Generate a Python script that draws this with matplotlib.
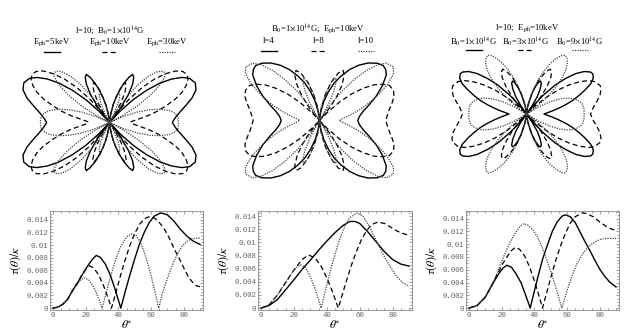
import numpy as np
import matplotlib.pyplot as plt
from matplotlib.lines import Line2D
from matplotlib.ticker import MultipleLocator

plt.rcParams['font.family'] = ['Liberation Serif', 'DejaVu Serif']
plt.rcParams['mathtext.fontset'] = 'stix'

W, H = 636, 330

# theta in degrees, tau(theta)/kappa in units of 1e-3

# panel 1: l=10, B0=1e14 G, E_ph = 5, 10, 30 keV
p1_th_a = [0, 3, 6, 9, 12, 15, 18, 21, 24, 26.5, 29, 32, 35, 38, 40, 41.5, 44, 47, 50, 53, 56, 59, 62, 66, 70, 74, 78, 82, 86, 90]
p1_tau_a = [0, 0.15, 0.6, 1.4, 2.8, 4.0, 5.3, 6.6, 7.7, 8.35, 8.05, 7.0, 5.3, 3.0, 1.3, 0, 2.4, 5.2, 7.8, 10.2, 12.1, 13.6, 14.6, 15.1, 14.8, 13.8, 12.5, 11.4, 10.6, 10.1]
p1_th_b = [0, 3, 6, 9, 12, 15, 18, 20, 22.5, 25, 28, 31, 34, 35.8, 38, 41, 44, 47, 50, 53, 56, 59, 62, 65, 68, 71, 74, 77, 80, 83, 86, 88, 90]
p1_tau_b = [0, 0.15, 0.6, 1.4, 2.8, 4.0, 5.4, 6.1, 6.7, 6.35, 5.25, 3.55, 1.4, 0, 2.0, 4.85, 7.5, 9.9, 11.8, 13.3, 14.2, 14.5, 14.3, 13.6, 12.6, 11.2, 9.5, 8.0, 6.4, 4.9, 3.9, 3.5, 3.4]
p1_th_c = [0, 3, 6, 9, 12, 15, 17, 19.5, 22, 25, 28, 30.1, 32, 35, 38, 41, 44, 46, 48.5, 51, 54, 57, 60, 62.5, 64.7, 67, 70, 73, 76, 79, 82, 85, 88, 90]
p1_tau_c = [0, 0.15, 0.6, 1.4, 2.7, 3.8, 4.5, 4.8, 4.45, 3.3, 1.5, 0, 1.9, 4.8, 7.4, 9.5, 10.9, 11.5, 11.8, 11.5, 10.2, 8.0, 5.2, 2.5, 0, 2.4, 4.7, 6.8, 8.5, 9.8, 10.6, 11.0, 11.1, 11.1]

# panel 2: B0=1e14 G, E_ph=10 keV, l = 4, 8, 10
p2_th_a = [0, 5, 10, 15, 20, 25, 30, 35, 40, 45, 50, 54, 57, 60, 65, 70, 75, 80, 85, 90]
p2_tau_a = [0, 0.4, 1.3, 2.8, 4.3, 5.9, 7.3, 8.8, 10.2, 11.5, 12.6, 13.2, 13.2, 12.9, 11.6, 10.1, 8.6, 7.4, 6.7, 6.4]
p2_th_b = [0, 5, 10, 15, 20, 25, 29, 33, 37, 40, 43, 45, 47, 49, 52, 55, 58, 61, 64, 67, 71, 75, 79, 83, 87, 90]
p2_tau_b = [0, 0.5, 2.0, 3.9, 5.8, 7.4, 8.1, 7.6, 6.2, 4.6, 2.8, 1.4, 0, 1.7, 4.2, 6.55, 8.6, 10.4, 11.7, 12.7, 13.1, 12.9, 12.3, 11.7, 11.3, 11.1]
p2_th_c = [0, 5, 10, 15, 19, 22, 24, 27, 30, 33, 35, 36.6, 39, 42, 45, 48, 51, 54, 58.5, 62, 66, 70, 74, 78, 82, 86, 90]
p2_tau_c = [0, 0.5, 2.0, 3.9, 5.4, 6.3, 6.6, 6.2, 4.8, 2.9, 1.3, 0, 2.5, 5.5, 8.2, 10.6, 12.5, 13.8, 14.5, 14.0, 12.4, 10.3, 8.3, 6.5, 5.0, 3.9, 3.3]

# panel 3: l=10, E_ph=10 keV, B0 = 1, 3, 9 x 1e14 G
p3_th_a = [0, 5, 10, 15, 18, 21, 23.2, 26, 29, 32, 35, 37.5, 39, 42, 45, 48, 51, 54, 57, 59, 62, 65, 68, 71, 74, 77, 80, 83, 86, 90]
p3_tau_a = [0, 0.4, 1.7, 4.0, 5.3, 6.3, 6.7, 6.4, 5.3, 3.9, 1.8, 0, 1.6, 4.7, 7.6, 9.9, 12.0, 13.5, 14.4, 14.6, 14.3, 13.4, 11.9, 10.4, 9.0, 7.5, 6.1, 5.0, 4.1, 3.3]
p3_th_b = [0, 5, 10, 15, 18, 21, 24, 26, 28.3, 31, 34, 37, 40, 43, 45, 47, 50, 53, 56, 59, 62, 65, 69.3, 72, 76, 80, 85, 90]
p3_tau_b = [0, 0.4, 1.7, 4.1, 5.6, 7.1, 8.3, 9.0, 9.5, 9.2, 8.2, 6.5, 4.3, 1.8, 0, 1.9, 4.7, 7.4, 9.7, 11.7, 13.3, 14.3, 14.9, 14.8, 14.3, 13.5, 12.6, 12.1]
p3_th_c = [0, 5, 10, 13, 16, 19, 22, 25, 28, 31, 33.4, 36, 39, 42, 45, 48, 51, 54, 56.8, 60, 63, 66, 69, 72, 75, 78, 81, 85, 90]
p3_tau_c = [0, 0.4, 1.8, 3.2, 4.7, 6.7, 8.5, 10.2, 11.6, 12.7, 13.2, 13.0, 12.3, 11.1, 9.4, 7.3, 5.0, 2.5, 0, 2.7, 5.0, 6.9, 8.3, 9.3, 10.0, 10.5, 10.8, 10.9, 10.9]

yticks = [0, 2, 4, 6, 8, 10, 12, 14]
ytick_labels = ["0", "0.002", "0.004", "0.006", "0.008", "0.01", "0.012", "0.014"]
xticks = [0, 20, 40, 60, 80]

titles = ["l=10;  B$_0$=1$\\times$10$^{14}$G",
          "B$_0$=1$\\times$10$^{14}$G;  E$_{\\rm ph}$=10keV",
          "l=10;  E$_{\\rm ph}$=10keV"]
legends = [["E$_{\\rm ph}$=5keV", "E$_{\\rm ph}$=10keV", "E$_{\\rm ph}$=30keV"],
           ["l=4", "l=8", "l=10"],
           ["B$_0$=1$\\times$10$^{14}$G", "B$_0$=3$\\times$10$^{14}$G", "B$_0$=9$\\times$10$^{14}$G"]]

styles = [dict(color='black', lw=1.0, ls='-'),
          dict(color='black', lw=0.9, ls=(0, (4, 2.5))),
          dict(color='#444444', lw=0.9, ls=(0, (1, 1)))]

panels = [[(p1_th_a, p1_tau_a), (p1_th_b, p1_tau_b), (p1_th_c, p1_tau_c)],
          [(p2_th_a, p2_tau_a), (p2_th_b, p2_tau_b), (p2_th_c, p2_tau_c)],
          [(p3_th_a, p3_tau_a), (p3_th_b, p3_tau_b), (p3_th_c, p3_tau_c)]]

# pixel boxes (x0, y0, x1, y1) measured from the top-left
polar_boxes = [(23, 71, 196, 174), (245, 63, 394, 178), (452, 55, 601, 173)]
plot_boxes = [(50, 211, 203, 310), (258, 211, 412, 310), (466, 211, 619, 310)]
title_pos = [(110, 30.5), (318, 29.5), (527, 28)]
legend_x = [[52, 110, 167], [269, 319, 366], [474, 526, 580]]
legend_y = [42, 41, 42]
sample_y = [52, 51, 50]


def box(b):
    x0, y0, x1, y1 = b
    return [x0 / W, 1 - y1 / H, (x1 - x0) / W, (y1 - y0) / H]


fig = plt.figure(figsize=(6.36, 3.30), dpi=100)

for i in range(3):
    # butterfly (polar) view
    ax = fig.add_axes(box(polar_boxes[i]))
    xm = ym = 0
    for (th, tau), st in zip(panels[i], styles):
        t = np.radians(th)
        r = np.array(tau)
        x = r * np.sin(t)
        y = r * np.cos(t)
        xs = np.concatenate([x, x[::-1], -x, -x[::-1]])
        ys = np.concatenate([y, -y[::-1], -y, y[::-1]])
        ax.plot(xs, ys, clip_on=False, **st)
        xm = max(xm, x.max())
        ym = max(ym, y.max())
    ax.set_xlim(-xm, xm)
    ax.set_ylim(-ym, ym)
    ax.axis('off')

    # header
    fig.text(title_pos[i][0] / W, 1 - title_pos[i][1] / H, titles[i],
             ha='center', va='center', fontsize=6.2)
    for j in range(3):
        fig.text(legend_x[i][j] / W, 1 - legend_y[i] / H, legends[i][j],
                 ha='center', va='center', fontsize=6.2)
        xc = legend_x[i][j]
        fig.add_artist(Line2D([(xc - 8) / W, (xc + 8) / W], [1 - sample_y[i] / H] * 2,
                              transform=fig.transFigure, **styles[j]))

    # tau(theta) curves
    ax = fig.add_axes(box(plot_boxes[i]))
    top = 0
    for (th, tau), st in zip(panels[i], styles):
        ax.plot(th, tau, **st)
        top = max(top, max(tau))
    ax.set_xlim(-1.8, 91.8)
    ax.set_ylim(-0.02 * top, 1.02 * top)
    ax.set_xticks(xticks)
    ax.set_xticklabels([str(v) for v in xticks], family='Liberation Mono')
    ax.set_yticks(yticks)
    ax.set_yticklabels(ytick_labels, family='Liberation Mono')
    ax.xaxis.set_minor_locator(MultipleLocator(5))
    ax.yaxis.set_minor_locator(MultipleLocator(0.5))
    ax.tick_params(which='both', direction='in', top=True, right=True,
                   color='#777777', labelcolor='#666666', labelsize=5.3, width=0.5, pad=1.5)
    ax.tick_params(which='major', length=2.5)
    ax.tick_params(which='minor', length=1.2)
    for s in ax.spines.values():
        s.set_color('#888888')
        s.set_linewidth(0.6)
    ax.set_xlabel(r'$\theta^{\circ}$', fontsize=8.5, labelpad=0)
    ax.set_ylabel(r'$\tau(\theta)/\kappa$', fontsize=8.5, labelpad=2)

fig.savefig('out.png', dpi=100)
